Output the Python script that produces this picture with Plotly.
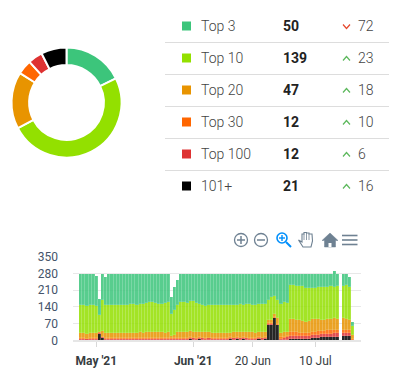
import pandas as pd
import plotly.graph_objects as go

W, H = 394, 387

# --- summary table
labels = ["Top 3", "Top 10", "Top 20", "Top 30", "Top 100", "101+"]
counts = [50, 139, 47, 12, 12, 21]
changes = [72, 23, 18, 10, 6, 16]
directions = ["down", "up", "up", "up", "up", "up"]
colors = ["#3CC57B", "#93E000", "#E89400", "#FF6600", "#DE3232", "#000000"]

# --- daily history
dates = pd.date_range("2021-04-26", periods=88, freq="D")
top3 = [130,133,135,133,132,127,69,112,121,132,
        131,129,132,133,132,130,128,127,130,128,
        127,124,120,119,123,122,125,122,118,70,
        95,105,118,118,122,115,115,122,128,130,
        134,132,128,133,132,133,131,130,129,132,
        130,128,130,128,127,130,131,128,126,128,
        112,98,95,112,125,120,123,49,49,50,
        51,52,58,58,60,59,55,54,56,54,
        50,64,52,0,52,49,43,15]
top10 = [119,116,119,116,118,115,68,128,114,118,
         119,120,118,117,118,117,120,123,118,118,
         122,118,122,124,120,119,120,125,126,93,
         105,114,126,126,120,123,127,122,117,116,
         110,114,120,115,115,115,118,117,119,112,
         115,117,116,116,119,116,119,116,120,114,
         83,97,72,75,125,124,119,141,141,145,
         144,144,144,142,130,129,135,141,136,134,
         138,133,136,0,135,141,135,37]
top20 = [22,22,18,22,21,20,4,23,24,21,
         21,21,21,21,21,24,23,21,23,25,
         22,29,29,27,28,27,26,24,25,11,
         16,27,26,26,27,29,26,25,22,22,
         25,22,20,21,23,21,20,22,19,24,
         22,23,21,24,23,23,19,23,22,25,
         13,13,15,24,17,20,20,55,55,50,
         53,51,45,48,52,54,51,43,46,49,
         49,49,48,0,49,46,45,19]
top30 = [3]*60 + [2,2,2,2,5,5,5,14,14,14,
                  14,14,14,14,14,14,14,14,14,14,
                  14,14,14,0,12,12,13,1]
top100 = [5]*60 + [3,3,3,3,6,8,9,15,15,15,
                   12,12,12,11,14,14,14,14,14,14,
                   14,14,14,0,12,12,10,1]
rest = [1,1,0,1,1,2,26,9,1,1,
        1,1,1,1,1,1,1,1,1,1,
        1,1,1,1,1,1,1,1,1,1,
        1,1,2,2,3,5,4,3,5,4,
        3,4,2,3,2,3,2,3,5,4,
        5,4,5,4,3,3,3,5,4,5,
        67,67,93,64,2,3,4,6,6,6,
        6,7,7,7,10,10,11,14,14,15,
        15,16,16,0,20,20,20,3]
history = [top3, top10, top20, top30, top100, rest]

y_ticks = [0, 70, 140, 210, 280, 350]
x_tick_dates = ["2021-05-01", "2021-06-01", "2021-06-20", "2021-07-10"]
x_tick_text = ["<b>May '21</b>", "<b>Jun '21</b>", "20 Jun", "10 Jul"]


def px(x):
    return x / W


def py(y):
    return 1 - y / H


fig = go.Figure()

fig.add_trace(go.Pie(
    values=counts, labels=labels, sort=False, direction="clockwise", rotation=0,
    hole=0.68, textinfo="none", showlegend=False,
    marker=dict(colors=colors, line=dict(color="#ffffff", width=2)),
    domain=dict(x=[px(11.5), px(121.5)], y=[py(157.5), py(47.5)]),
))

for i in range(5, -1, -1):
    fig.add_trace(go.Bar(
        x=dates, y=history[i], name=labels[i], showlegend=False,
        marker=dict(color=colors[i], opacity=0.85, line=dict(width=0.3, color="rgba(255,255,255,0.4)")),
    ))

shapes = []
annotations = []
row_h = 32
first_row = 26
for i, lab in enumerate(labels):
    yc = first_row + i * row_h
    shapes.append(dict(type="rect", xref="paper", yref="paper", layer="above",
                       x0=px(182), x1=px(191), y0=py(yc + 4.5), y1=py(yc - 4.5),
                       fillcolor=colors[i], line=dict(width=0)))
    annotations.append(dict(x=px(198.5), y=py(yc), text=lab, xanchor="left",
                            font=dict(family="Roboto", size=14, weight=300, color="#444444")))
    annotations.append(dict(x=px(281), y=py(yc), text=f"<b>{counts[i]}</b>", xanchor="left",
                            font=dict(family="Roboto", size=14, color="#222222")))
    annotations.append(dict(x=px(355.5), y=py(yc), text=str(changes[i]), xanchor="left",
                            font=dict(family="Roboto", size=14, weight=300, color="#444444")))
    if directions[i] == "up":
        ya, yb, col = yc + 2.5, yc - 1.5, "#5CB85C"
    else:
        ya, yb, col = yc - 1.5, yc + 2.5, "#E5482D"
    shapes.append(dict(type="path", xref="paper", yref="paper", layer="above",
                       path=f"M {px(343)} {py(ya)} L {px(346.5)} {py(yb)} L {px(350)} {py(ya)}",
                       line=dict(color=col, width=1.2)))
    if i < len(labels) - 1:
        shapes.append(dict(type="line", xref="paper", yref="paper", layer="above",
                           x0=px(165), x1=px(389), y0=py(yc + 16.5), y1=py(yc + 16.5),
                           line=dict(color="#dddddd", width=1)))

# toolbar icons
grey = "#6E8192"
blue = "#008FFB"


def line(x0, y0, x1, y1, col=grey, w=1.5):
    shapes.append(dict(type="line", xref="paper", yref="paper", layer="above",
                       x0=px(x0), y0=py(y0), x1=px(x1), y1=py(y1), line=dict(color=col, width=w)))


def circle(cx, cy, r, col=grey, w=1.3):
    shapes.append(dict(type="circle", xref="paper", yref="paper", layer="above",
                       x0=px(cx - r), x1=px(cx + r), y0=py(cy + r), y1=py(cy - r),
                       line=dict(color=col, width=w)))


def path(points, fill=None, col=grey, w=1.0):
    d = "M " + " L ".join(f"{px(a)} {py(b)}" for a, b in points) + " Z"
    shapes.append(dict(type="path", xref="paper", yref="paper", layer="above", path=d,
                       fillcolor=fill if fill else "rgba(0,0,0,0)", line=dict(color=col, width=w)))


circle(241, 240, 6.5)
line(237, 240, 245, 240)
line(241, 236, 241, 244)
circle(261, 240, 6.5)
line(257, 240, 265, 240)
circle(282, 238, 5, blue, 1.6)
line(279, 238, 285, 238, blue, 1.4)
line(282, 235, 282, 241, blue, 1.4)
line(286, 242, 291, 247, blue, 2)
path([(298.5, 240), (302, 242), (302, 234), (304, 234), (304, 232.5), (306.5, 232.5), (306.5, 233),
      (309, 233), (309, 234), (312, 234), (312.5, 241), (311, 247), (303, 247)], fill="#ffffff", w=1.1)
line(304, 234, 304, 240, grey, 0.8)
line(306.5, 233, 306.5, 240, grey, 0.8)
line(309, 234, 309, 240, grey, 0.8)
path([(322, 240.5), (330, 233), (338, 240.5), (335.5, 240.5), (335.5, 247), (324.5, 247), (324.5, 240.5)], fill=grey, w=0.5)
path([(328.5, 243), (331.5, 243), (331.5, 247), (328.5, 247)], fill="#ffffff", col="#ffffff", w=0)
for yy in (235.5, 240, 244.5):
    line(342, yy, 357.5, yy, grey, 1.6)

fig.update_layout(
    width=W, height=H, margin=dict(l=0, r=0, t=0, b=0, autoexpand=False), autosize=False,
    paper_bgcolor="#ffffff", plot_bgcolor="#ffffff",
    barmode="stack", bargap=0,
    font=dict(family="Roboto", size=12, color="#373D3F"),
    shapes=shapes, annotations=[dict(a, xref="paper", yref="paper", showarrow=False, yanchor="middle") for a in annotations],
    xaxis=dict(
        domain=[px(73), px(361)], type="date", anchor="y", automargin=False,
        range=["2021-04-23 13:00", "2021-07-24 14:00"],
        tickmode="array", tickvals=x_tick_dates, ticktext=x_tick_text,
        ticks="outside", ticklen=5, tickcolor="#d8d8d8", tickangle=0, ticklabelstandoff=3,
        showgrid=False, showline=True, linecolor="#e6e6e6", linewidth=2, zeroline=False,
        tickfont=dict(family="Roboto", size=12, color="#373D3F"),
    ),
    yaxis=dict(
        domain=[py(340.3), py(256.7)], range=[0, 350], anchor="x", automargin=False,
        tickmode="array", tickvals=y_ticks, ticks="", ticklabelstandoff=14,
        showgrid=True, gridcolor="#e8e8e8", gridwidth=1, zeroline=False, showline=False,
        tickfont=dict(family="Roboto", size=12, color="#44546A"),
    ),
)

fig.write_html("out.html", config=dict(displayModeBar=False),
               post_script="document.body.style.margin='0';document.body.style.overflow='hidden';")
